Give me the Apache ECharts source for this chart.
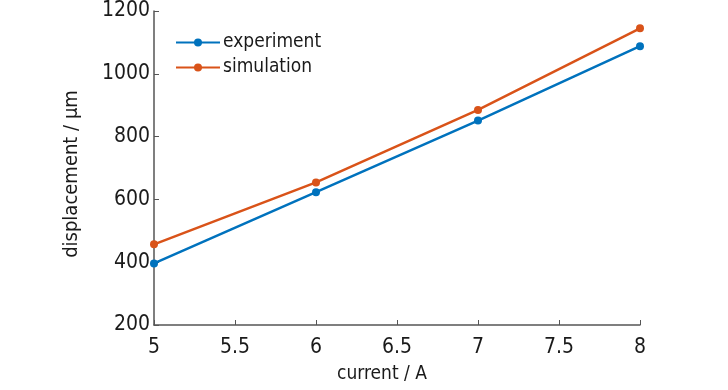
<!DOCTYPE html>
<html><head><meta charset="utf-8">
<script src="https://cdn.jsdelivr.net/npm/echarts@6/dist/echarts.min.js"></script>
<style>html,body{margin:0;padding:0;background:#fff}#c{width:728px;height:390px}</style>
</head><body><div id="c"></div>
<script>
const currents = [5, 6, 7, 8];
const experiment = [396, 623, 851, 1088];
const simulation = [457, 654, 885, 1145];
const xTicks = [5, 5.5, 6, 6.5, 7, 7.5, 8];
const yTicks = [200, 400, 600, 800, 1000, 1200];
const FONT = '"DejaVu Sans Condensed", "Liberation Sans Narrow", "Liberation Sans", Arial, sans-serif';

const chart = echarts.init(document.getElementById('c'), null, {renderer: 'canvas'});
const axisLine = {show: true, lineStyle: {color: '#555', width: 1.5}};
chart.setOption({
  animation: false,
  backgroundColor: '#fff',
  grid: {left: 154, right: 88, top: 11, bottom: 65, containLabel: false},
  legend: {
    left: 170, top: 28, orient: 'vertical', itemGap: 6,
    itemWidth: 44, itemHeight: 10,
    textStyle: {fontFamily: FONT, fontSize: 19, color: '#1a1a1a', padding: [0, 0, 0, -2]},
    data: ['experiment', 'simulation']
  },
  xAxis: {
    type: 'value', min: xTicks[0], max: xTicks[xTicks.length - 1], interval: 0.5,
    name: 'current / A', nameLocation: 'middle', nameGap: 40,
    nameTextStyle: {fontFamily: FONT, fontSize: 19, color: '#1a1a1a', padding: [0, 30, 0, 0]},
    axisLine: axisLine,
    axisTick: {show: true, inside: true, length: 5, lineStyle: {color: '#555'}},
    axisLabel: {fontFamily: FONT, fontSize: 21, color: '#1a1a1a', margin: 12, formatter: v => String(v)},
    splitLine: {show: false}
  },
  yAxis: {
    type: 'value', min: yTicks[0], max: yTicks[yTicks.length - 1], interval: 200,
    name: 'displacement / μm', nameLocation: 'middle', nameGap: 72, nameRotate: 90,
    nameTextStyle: {fontFamily: FONT, fontSize: 20, color: '#1a1a1a', padding: [0, 12, 0, 0]},
    axisLine: axisLine,
    axisTick: {show: true, inside: true, length: 5, lineStyle: {color: '#555'}},
    axisLabel: {fontFamily: FONT, fontSize: 21, color: '#1a1a1a', margin: 4, formatter: v => String(v)},
    splitLine: {show: false}
  },
  series: [
    {name: 'experiment', type: 'line', data: currents.map((x, i) => [x, experiment[i]]),
     color: '#0072BD', lineStyle: {width: 2.5}, symbol: 'circle', symbolSize: 8,
     itemStyle: {color: '#0072BD'}},
    {name: 'simulation', type: 'line', data: currents.map((x, i) => [x, simulation[i]]),
     color: '#D95319', lineStyle: {width: 2.5}, symbol: 'circle', symbolSize: 8,
     itemStyle: {color: '#D95319'}}
  ]
});
</script></body></html>
